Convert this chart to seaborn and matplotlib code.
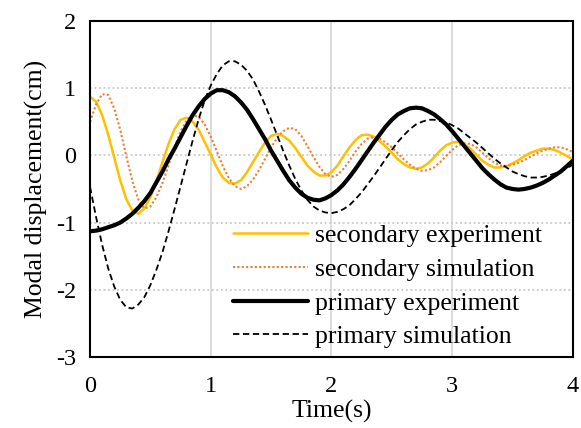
import numpy as np
import pandas as pd
import matplotlib
matplotlib.use('Agg')
import matplotlib.pyplot as plt
import seaborn as sns

# time axis, 0.05 s step
time = np.round(np.arange(0, 4.0001, 0.05), 2)

sec_exp = [0.87, 0.80, 0.60, 0.31, -0.03, -0.37, -0.65, -0.82, -0.87, -0.79,
           -0.62, -0.38, -0.10, 0.17, 0.39, 0.53, 0.56, 0.50, 0.38, 0.20,
           0.01, -0.18, -0.33, -0.41, -0.42, -0.37, -0.25, -0.10, 0.05, 0.19,
           0.29, 0.32, 0.29, 0.22, 0.11, -0.02, -0.15, -0.24, -0.30, -0.30,
           -0.25, -0.15, -0.01, 0.12, 0.23, 0.30, 0.31, 0.28, 0.21, 0.13,
           0.04, -0.06, -0.13, -0.18, -0.20, -0.18, -0.12, -0.03, 0.07, 0.15,
           0.19, 0.20, 0.16, 0.10, 0.01, -0.08, -0.14, -0.18, -0.18, -0.16,
           -0.12, -0.07, -0.01, 0.04, 0.07, 0.10, 0.10, 0.08, 0.04, -0.01,
           -0.06]

sec_sim = [0.50, 0.76, 0.91, 0.90, 0.70, 0.38, -0.01, -0.38, -0.66, -0.79,
           -0.76, -0.62, -0.41, -0.15, 0.12, 0.36, 0.52, 0.60, 0.57, 0.46,
           0.28, 0.06, -0.16, -0.34, -0.46, -0.50, -0.46, -0.36, -0.22, -0.05,
           0.12, 0.26, 0.36, 0.41, 0.39, 0.29, 0.14, -0.02, -0.17, -0.28,
           -0.32, -0.29, -0.20, -0.08, 0.06, 0.17, 0.25, 0.27, 0.25, 0.19,
           0.12, 0.03, -0.06, -0.14, -0.20, -0.23, -0.22, -0.18, -0.10, -0.01,
           0.08, 0.15, 0.18, 0.17, 0.12, 0.04, -0.04, -0.11, -0.15, -0.16,
           -0.14, -0.11, -0.07, -0.02, 0.03, 0.07, 0.10, 0.12, 0.12, 0.09,
           0.05]

pri_exp = [-1.13, -1.12, -1.10, -1.07, -1.04, -1.00, -0.94, -0.87, -0.78, -0.68,
           -0.56, -0.40, -0.24, -0.06, 0.10, 0.27, 0.44, 0.60, 0.73, 0.84,
           0.92, 0.97, 0.97, 0.94, 0.88, 0.79, 0.68, 0.54, 0.39, 0.24,
           0.07, -0.08, -0.23, -0.37, -0.48, -0.57, -0.63, -0.66, -0.67, -0.64,
           -0.59, -0.52, -0.43, -0.32, -0.20, -0.07, 0.06, 0.19, 0.31, 0.43,
           0.53, 0.61, 0.66, 0.70, 0.71, 0.70, 0.66, 0.61, 0.54, 0.46,
           0.36, 0.25, 0.14, 0.03, -0.08, -0.19, -0.28, -0.36, -0.43, -0.48,
           -0.50, -0.51, -0.50, -0.48, -0.45, -0.41, -0.36, -0.30, -0.24, -0.16,
           -0.08]

pri_sim = [-0.47, -0.92, -1.33, -1.68, -1.95, -2.15, -2.26, -2.28, -2.22, -2.11,
           -1.93, -1.70, -1.44, -1.13, -0.80, -0.46, -0.12, 0.22, 0.54, 0.82,
           1.04, 1.21, 1.34, 1.40, 1.40, 1.35, 1.26, 1.13, 0.95, 0.75,
           0.53, 0.30, 0.07, -0.15, -0.35, -0.52, -0.66, -0.76, -0.82, -0.85,
           -0.86, -0.84, -0.80, -0.74, -0.65, -0.55, -0.43, -0.31, -0.18, -0.05,
           0.08, 0.20, 0.30, 0.39, 0.46, 0.50, 0.53, 0.53, 0.51, 0.49,
           0.45, 0.40, 0.33, 0.26, 0.19, 0.11, 0.03, -0.05, -0.12, -0.18,
           -0.24, -0.28, -0.31, -0.33, -0.33, -0.32, -0.30, -0.27, -0.24, -0.19,
           -0.14]

df = pd.DataFrame({'Time': time, 'sec_exp': sec_exp, 'sec_sim': sec_sim,
                   'pri_exp': pri_exp, 'pri_sim': pri_sim})

sns.set_style('white')
plt.rcParams['font.family'] = ['Liberation Serif', 'DejaVu Serif']
plt.rcParams['axes.unicode_minus'] = False
plt.rcParams['text.color'] = 'black'
plt.rcParams['axes.labelcolor'] = 'black'

fig = plt.figure(figsize=(5.81, 4.28), dpi=100)
ax = fig.add_axes([0.155, 0.166, 0.831, 0.785])

# grid: solid vertical, dotted horizontal
for xv in [1, 2, 3]:
    ax.axvline(xv, color='#d9d9d9', lw=1.3, zorder=0)
for yv in [1, 0, -1, -2]:
    ax.axhline(yv, color='#c8c8c8', lw=1.3, ls=(0, (1, 1.5)), zorder=0)

sns.lineplot(data=df, x='Time', y='sec_exp', ax=ax, color='#FFC000', lw=1.8,
             label='secondary experiment')
sns.lineplot(data=df, x='Time', y='sec_sim', ax=ax, color='#ED7D31', lw=1.5,
             linestyle=(0, (1, 1.1)), label='secondary simulation')
sns.lineplot(data=df, x='Time', y='pri_exp', ax=ax, color='black', lw=3.0,
             label='primary experiment')
sns.lineplot(data=df, x='Time', y='pri_sim', ax=ax, color='black', lw=1.3,
             linestyle=(0, (3.5, 2)), label='primary simulation')

ax.set_xlim(0, 4)
ax.set_ylim(-3, 2)
ax.set_xticks([0, 1, 2, 3, 4])
ax.set_yticks([-3, -2, -1, 0, 1, 2])
ax.tick_params(length=0, labelsize=17.5, colors='black')
ax.tick_params(axis='x', pad=14)
ax.tick_params(axis='y', pad=10)
ax.set_xlabel('Time(s)', fontsize=18.5, labelpad=2)
ax.set_ylabel('Modal displacement(cm)', fontsize=18.5, labelpad=6)

for sp in ax.spines.values():
    sp.set_color('black')
    sp.set_linewidth(1.5)

leg = ax.legend(loc='lower left', bbox_to_anchor=(0.275, -0.005), frameon=False,
                fontsize=18.5, handlelength=2.9, handletextpad=0.3,
                labelspacing=0.42, borderaxespad=0)

fig.savefig('out.png', dpi=100)
